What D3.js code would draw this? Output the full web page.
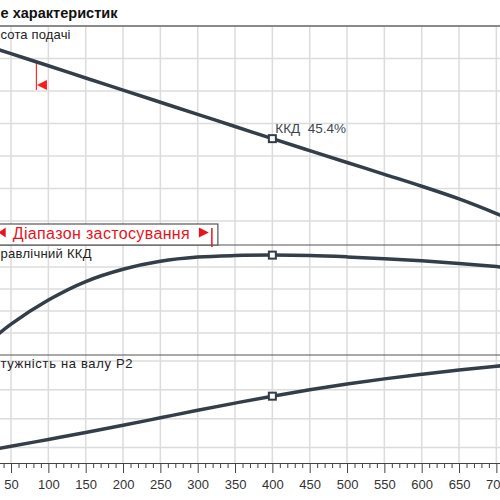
<!DOCTYPE html>
<html>
<head>
<meta charset="utf-8">
<script src="https://cdn.jsdelivr.net/npm/d3@7"></script>
<style>
  body { margin: 0; background: #fff; }
  svg { display: block; font-family: "Liberation Sans", Arial, sans-serif; }
</style>
</head>
<body>
<div id="chart"></div>
<script>
// flow points and the three curves
const flow = [0, 50, 100, 150, 200, 250, 300, 350, 400, 450, 500, 550, 600, 650, 700, 750]
const head = [37.6, 35.74, 33.88, 32.0, 30.14, 28.27, 26.4, 24.54, 22.67, 20.83, 19.0, 17.18, 15.35, 13.4, 11.15, 8.7]
const efficiency = [0, 14, 25, 33.4, 39.0, 42.6, 44.5, 45.2, 45.4, 45.2, 44.6, 43.8, 42.8, 41.6, 40.2, 38.6]
const power = [8.1, 10.4, 12.8, 15.2, 17.7, 20.3, 22.9, 25.4, 27.8, 30.0, 32.0, 33.8, 35.4, 36.9, 38.2, 39.3]

const flowTicks = [50, 100, 150, 200, 250, 300, 350, 400, 450, 500, 550, 600, 650, 700]
const gridFlow = [0, 50, 100, 150, 200, 250, 300, 350, 400, 450, 500, 550, 600, 650, 700, 750]
const headGrid = [10, 15, 20, 25, 30, 35]
const effGrid = [10, 20, 30, 40]
const powerGrid = [10, 20, 30, 40]

const dutyFlow = 400
const dutyLabel = "ККД  45.4%"
const minFlow = 84
const rangeEnd = 319

// the picture is a crop: only these parts of the texts are visible
const title = "е характеристик"
const labels = ["сота подачі", "равлічний ККД", "тужність на валу P2"]
const labelWidths = [70, 91, 132]
const rangeText = "Діапазон застосування"

const width = 500, height = 500
const lineColor = "#343e49"

const svg = d3.select("#chart")
    .append("svg")
    .attr("width", width)
    .attr("height", height)

const x = d3.scaleLinear()
    .domain([0, 750])
    .range([-26.3, 533.7])

const yHead = d3.scaleLinear().domain([10, 40]).range([221, 26])
const yEff = d3.scaleLinear().domain([0, 50]).range([355, 245])
const yPow = d3.scaleLinear().domain([10, 40]).range([447.5, 361])

const topY = 26, sep1 = 245, sep2 = 355, axisY = 463

// grid
const grid = svg.append("g").attr("stroke", "#dcdcdc").attr("stroke-width", 1.5)
grid.selectAll(".vg")
    .data(gridFlow)
    .join("line")
    .attr("x1", d => x(d)).attr("x2", d => x(d))
    .attr("y1", topY).attr("y2", axisY)

const hLines = [].concat(
    headGrid.map(d => yHead(d)),
    effGrid.map(d => yEff(d)),
    powerGrid.map(d => yPow(d))
)
grid.selectAll(".hg")
    .data(hLines)
    .join("line")
    .attr("x1", 0).attr("x2", width)
    .attr("y1", d => d).attr("y2", d => d)

// panel borders
svg.append("line")
    .attr("x1", 0).attr("x2", width)
    .attr("y1", topY).attr("y2", topY)
    .attr("stroke", "#8a8a8a").attr("stroke-width", 2)

svg.selectAll(".sep")
    .data([sep1, sep2])
    .join("line")
    .attr("x1", 0).attr("x2", width)
    .attr("y1", d => d).attr("y2", d => d)
    .attr("stroke", "#555").attr("stroke-width", 1.2)

// title and panel labels
svg.append("text")
    .attr("x", 0.5).attr("y", 18)
    .attr("font-size", 14).attr("font-weight", "bold")
    .attr("fill", "#111")
    .attr("textLength", 117).attr("lengthAdjust", "spacingAndGlyphs")
    .text(title)

svg.selectAll(".plabel")
    .data(labels)
    .join("text")
    .attr("x", 0.5)
    .attr("y", (d, i) => [topY, sep1, sep2][i] + 13)
    .attr("font-size", 13)
    .attr("fill", "#222")
    .attr("textLength", (d, i) => labelWidths[i]).attr("lengthAdjust", "spacing")
    .text(d => d)

// application range box
const rangeG = svg.append("g")
rangeG.append("rect")
    .attr("x", x(0) - 10).attr("y", 224)
    .attr("width", x(rangeEnd) + 6 - (x(0) - 10)).attr("height", sep1 - 224)
    .attr("fill", "#fff").attr("stroke", "#555").attr("stroke-width", 1.2)
rangeG.append("path")
    .attr("d", `M${x(0) + 25},232.5 l7,-5 v10 z`)
    .attr("fill", "#e8141c")
rangeG.append("text")
    .attr("x", x(0) + 39).attr("y", 238.5)
    .attr("font-size", 16)
    .attr("fill", "#e8141c")
    .attr("textLength", 177).attr("lengthAdjust", "spacing")
    .text(rangeText)
rangeG.append("path")
    .attr("d", `M${x(rangeEnd) - 3},232.5 l-10,-5 v10 z`)
    .attr("fill", "#e8141c")
rangeG.append("line")
    .attr("x1", x(rangeEnd)).attr("x2", x(rangeEnd))
    .attr("y1", 228).attr("y2", 247)
    .attr("stroke", "#e8141c").attr("stroke-width", 1.5)

// min flow marker on head curve
const minHead = d3.scaleLinear().domain(flow).range(head)(minFlow)
svg.append("line")
    .attr("x1", x(minFlow)).attr("x2", x(minFlow))
    .attr("y1", yHead(minHead)).attr("y2", 90)
    .attr("stroke", "#ff2a2a").attr("stroke-width", 1.2)
svg.append("path")
    .attr("d", `M${x(minFlow) + 0.5},85 l10,-5 v10 z`)
    .attr("fill", "#ff1a1a")

// curves
const series = [
    {values: head, y: yHead},
    {values: efficiency, y: yEff},
    {values: power, y: yPow}
]

series.forEach(s => {
    svg.append("path")
        .datum(flow.map((f, i) => [f, s.values[i]]))
        .attr("d", d3.line()
            .x(d => x(d[0]))
            .y(d => s.y(d[1]))
            .curve(d3.curveCatmullRom.alpha(0.5)))
        .attr("fill", "none")
        .attr("stroke", lineColor)
        .attr("stroke-width", 3.5)
        .attr("stroke-linecap", "round")
})

// duty point markers
const di = flow.indexOf(dutyFlow)
series.forEach(s => {
    svg.append("rect")
        .attr("x", x(dutyFlow) - 3.5)
        .attr("y", s.y(s.values[di]) - 3.5)
        .attr("width", 7).attr("height", 7)
        .attr("fill", "#fff")
        .attr("stroke", lineColor)
        .attr("stroke-width", 2)
})

svg.append("text")
    .attr("x", x(dutyFlow) + 3)
    .attr("y", yHead(head[di]) - 6)
    .attr("font-size", 13.5)
    .attr("fill", "#3c4752")
    .style("white-space", "pre")
    .text(dutyLabel)

// x axis
const minorTicks = d3.range(0, 751, 10).filter(d => d % 50 !== 0)
svg.append("g")
    .attr("transform", `translate(0,${axisY})`)
    .call(d3.axisBottom(x).tickValues(minorTicks).tickSize(5).tickSizeOuter(0).tickFormat(""))
    .call(g => g.select(".domain").remove())
    .call(g => g.selectAll("line").attr("stroke", "#444"))

const axis = svg.append("g")
    .attr("transform", `translate(0,${axisY})`)
    .call(d3.axisBottom(x).tickValues(flowTicks).tickSize(10).tickSizeOuter(0).tickPadding(7))
axis.select(".domain").attr("stroke", "#444").attr("stroke-width", 1.2)
axis.selectAll("line").attr("stroke", "#444")
axis.selectAll("text")
    .attr("font-size", 13)
    .attr("font-family", "Liberation Sans, Arial, sans-serif")
    .attr("fill", "#333")
</script>
</body>
</html>
